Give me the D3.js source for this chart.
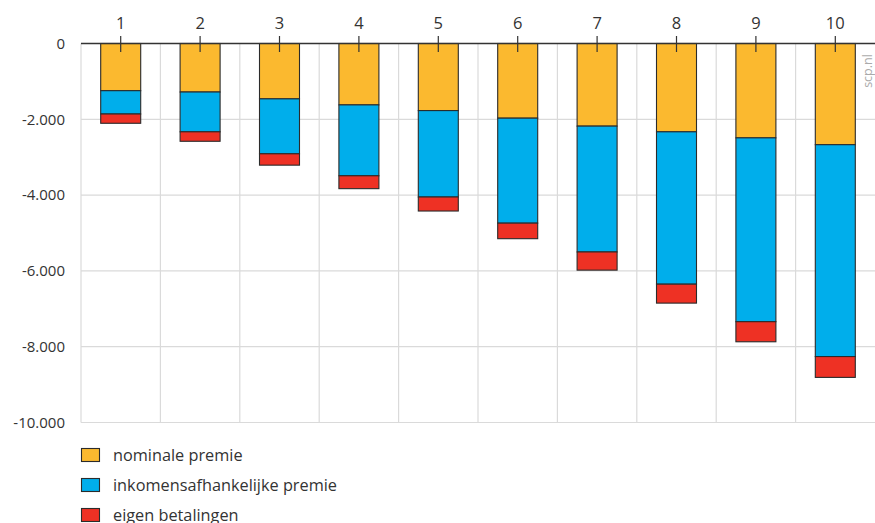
<!DOCTYPE html>
<html><head><meta charset="utf-8">
<script src="https://cdn.jsdelivr.net/npm/d3@7"></script>
<style>body{margin:0;background:#fff}svg{display:block;font-family:"Open Sans","Noto Sans",sans-serif}</style>
</head><body><svg id="c" width="875" height="523"></svg>
<script>
const categories = ["1","2","3","4","5","6","7","8","9","10"];
const seriesNames = ["nominale premie","inkomensafhankelijke premie","eigen betalingen"];
const nominale = [-1245,-1280,-1460,-1620,-1770,-1970,-2180,-2330,-2490,-2670];
const inkomens = [-615,-1050,-1450,-1870,-2280,-2770,-3320,-4020,-4850,-5590];
const eigen = [-245,-250,-300,-340,-370,-410,-480,-500,-530,-550];
const yTicks = [0,-2000,-4000,-6000,-8000,-10000];
const colors = ["#fbb92f","#00aeeb","#ee3124"];

(function(){
const svg = d3.select("#c");
const pL = 81, pR = 875, pT = 43.5, pB = 422.5;
const x = d3.scaleBand().domain(categories).range([pL, pR]).paddingInner(0).paddingOuter(0);
const y = d3.scaleLinear().domain([0,-10000]).range([pT,pB]);

svg.append("g").selectAll("line").data(yTicks.filter(d=>d!==0)).join("line")
  .attr("x1",pL).attr("x2",pR).attr("y1",d=>y(d)).attr("y2",d=>y(d))
  .attr("stroke","#dadada").attr("stroke-width",1.2);
svg.append("g").selectAll("line").data(categories).join("line")
  .attr("x1",d=>x(d)).attr("x2",d=>x(d)).attr("y1",pT).attr("y2",pB)
  .attr("stroke","#dadada").attr("stroke-width",1.2);

const fmt = d => d3.format(",")(d).replace(/,/g,".").replace("−","-");
svg.append("g").selectAll("text").data(yTicks).join("text")
  .attr("x",65).attr("y",d=>y(d)).attr("dy","0.35em").attr("text-anchor","end")
  .attr("font-size",15).attr("fill","#333").text(d=>d===0?"0":fmt(d));

const rows = categories.map((c,i)=>({cat:c, s0:nominale[i], s1:inkomens[i], s2:eigen[i]}));
const stack = d3.stack().keys(["s0","s1","s2"]).offset(d3.stackOffsetDiverging)(rows);
const bw = 40;
svg.append("g").selectAll("g").data(stack).join("g").attr("fill",(d,i)=>colors[i])
  .selectAll("rect").data(d=>d).join("rect")
  .attr("x",d=>x(d.data.cat)+x.bandwidth()/2-bw/2).attr("width",bw)
  .attr("y",d=>Math.min(y(d[0]),y(d[1]))).attr("height",d=>Math.abs(y(d[1])-y(d[0])))
  .attr("stroke","#2b2b2b").attr("stroke-width",1.1);

svg.append("line").attr("x1",pL).attr("x2",pR).attr("y1",y(0)).attr("y2",y(0))
  .attr("stroke","#333").attr("stroke-width",1.3);

const cx = c => x(c)+x.bandwidth()/2;
svg.append("g").selectAll("line").data(categories).join("line")
  .attr("x1",cx).attr("x2",cx).attr("y1",36).attr("y2",52)
  .attr("stroke","#333").attr("stroke-width",1.2);
svg.append("g").selectAll("text").data(categories).join("text")
  .attr("x",cx).attr("y",23).attr("dy","0.35em").attr("text-anchor","middle")
  .attr("font-size",16.5).attr("fill","#333").text(d=>d);

svg.append("text").attr("transform","translate(872,71) rotate(-90)")
  .attr("text-anchor","middle").attr("font-size",12.5).attr("fill","#aaa").text("scp.nl");

const lg = svg.append("g").selectAll("g").data(seriesNames).join("g")
  .attr("transform",(d,i)=>`translate(81,${455+i*30})`);
lg.append("rect").attr("x",0.5).attr("y",-6.5).attr("width",18).attr("height",13)
  .attr("fill",(d,i)=>colors[i]).attr("stroke","#2b2b2b").attr("stroke-width",1.1);
lg.append("text").attr("x",32).attr("y",0).attr("dy","0.35em").attr("font-size",16.3)
  .attr("fill","#333").text(d=>d);
})();
</script></body></html>
